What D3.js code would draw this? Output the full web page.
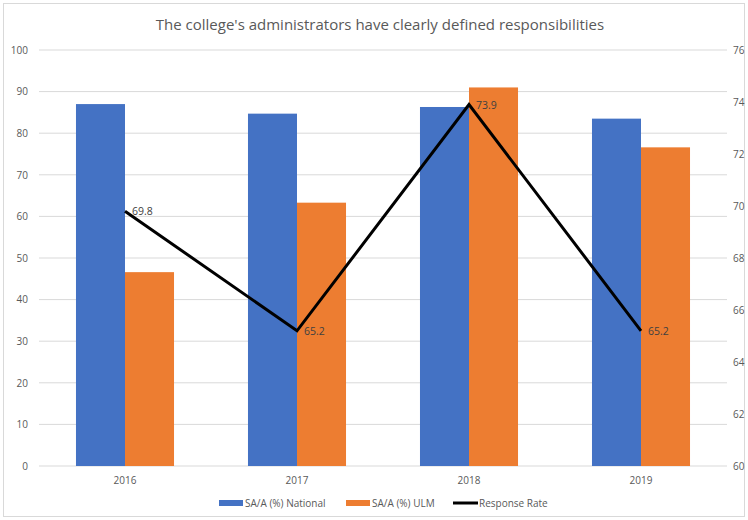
<!DOCTYPE html>
<html><head><meta charset="utf-8">
<script src="https://cdn.jsdelivr.net/npm/d3@7"></script>
<style>body{margin:0;background:#fff}svg{display:block}text{font-family:"Open Sans",sans-serif}</style>
</head><body><svg id="c" width="748" height="520"></svg>
<script>
const title = "The college's administrators have clearly defined responsibilities";
const years = ["2016","2017","2018","2019"];
const national = [87.0, 84.7, 86.3, 83.5];
const ulm = [46.6, 63.3, 91.0, 76.6];
const responseRate = [69.8, 65.2, 73.9, 65.2];
const seriesNames = ["SA/A (%) National","SA/A (%) ULM","Response Rate"];
const leftTicks = [0,10,20,30,40,50,60,70,80,90,100];
const rightTicks = [60,62,64,66,68,70,72,74,76];

const svg = d3.select("#c");
const L = 39, R = 727, T = 50, B = 466;
svg.append("rect").attr("x",3.5).attr("y",3.5).attr("width",741).attr("height",513)
  .attr("fill","#fff").attr("stroke","#d9d9d9");

const x = d3.scaleBand().domain(years).range([L,R]).paddingInner(0.43).paddingOuter(0.215);
const x1 = d3.scaleBand().domain([0,1]).range([0,x.bandwidth()]);
const yL = d3.scaleLinear().domain([0,100]).range([B,T]);
const yR = d3.scaleLinear().domain([60,76]).range([B,T]);

// gridlines
svg.append("g").selectAll("line").data(leftTicks).join("line")
  .attr("x1",L).attr("x2",R).attr("y1",d=>yL(d)).attr("y2",d=>yL(d))
  .attr("stroke","#d9d9d9").attr("stroke-width",1);

svg.append("text").attr("x",380).attr("y",30).attr("text-anchor","middle")
  .attr("font-size",15).attr("fill","#595959").text(title);

// left axis
const gl = svg.append("g").attr("transform",`translate(${L},0)`)
  .call(d3.axisLeft(yL).tickValues(leftTicks).tickSize(0).tickPadding(11));
gl.select(".domain").remove();
gl.selectAll("text").attr("font-size",10).attr("fill","#595959").attr("font-family","Open Sans");
// right axis
const gr = svg.append("g").attr("transform",`translate(${R},0)`)
  .call(d3.axisRight(yR).tickValues(rightTicks).tickSize(0).tickPadding(6));
gr.select(".domain").remove();
gr.selectAll("text").attr("font-size",10).attr("fill","#595959").attr("font-family","Open Sans");
// bottom axis
const gb = svg.append("g").attr("transform",`translate(0,${B})`)
  .call(d3.axisBottom(x).tickSize(0).tickPadding(11));
gb.select(".domain").remove();
gb.selectAll("text").attr("font-size",10).attr("fill","#595959").attr("font-family","Open Sans");

const colors = ["#4472C4","#ED7D31"];
const bars = svg.append("g");
[national, ulm].forEach((vals,si)=>{
  bars.selectAll(null).data(vals).join("rect")
    .attr("x",(d,i)=>x(years[i])+x1(si)).attr("width",x1.bandwidth())
    .attr("y",d=>yL(d)).attr("height",d=>B-yL(d)).attr("fill",colors[si]);
});

const cx = (d,i)=>x(years[i])+x.bandwidth()/2;
const line = d3.line().x(cx).y(d=>yR(d));
svg.append("path").datum(responseRate).attr("d",line).attr("fill","none")
  .attr("stroke","#000").attr("stroke-width",3).attr("stroke-linejoin","miter");
svg.append("g").selectAll("text").data(responseRate).join("text")
  .attr("x",(d,i)=>cx(d,i)+7).attr("y",d=>yR(d)+4)
  .attr("font-size",10.5).attr("fill","#404040").text(d=>d.toFixed(1));

// legend
const lg = svg.append("g");
const lx = [219,346,453];
seriesNames.forEach((n,i)=>{
  if(i<2) lg.append("rect").attr("x",lx[i]).attr("y",500).attr("width",24).attr("height",6).attr("fill",colors[i]);
  else lg.append("line").attr("x1",lx[i]).attr("x2",lx[i]+25).attr("y1",503).attr("y2",503).attr("stroke","#000").attr("stroke-width",3);
  lg.append("text").attr("x",lx[i]+26).attr("y",507).attr("font-size",10).attr("fill","#595959").text(n);
});
</script></body></html>
